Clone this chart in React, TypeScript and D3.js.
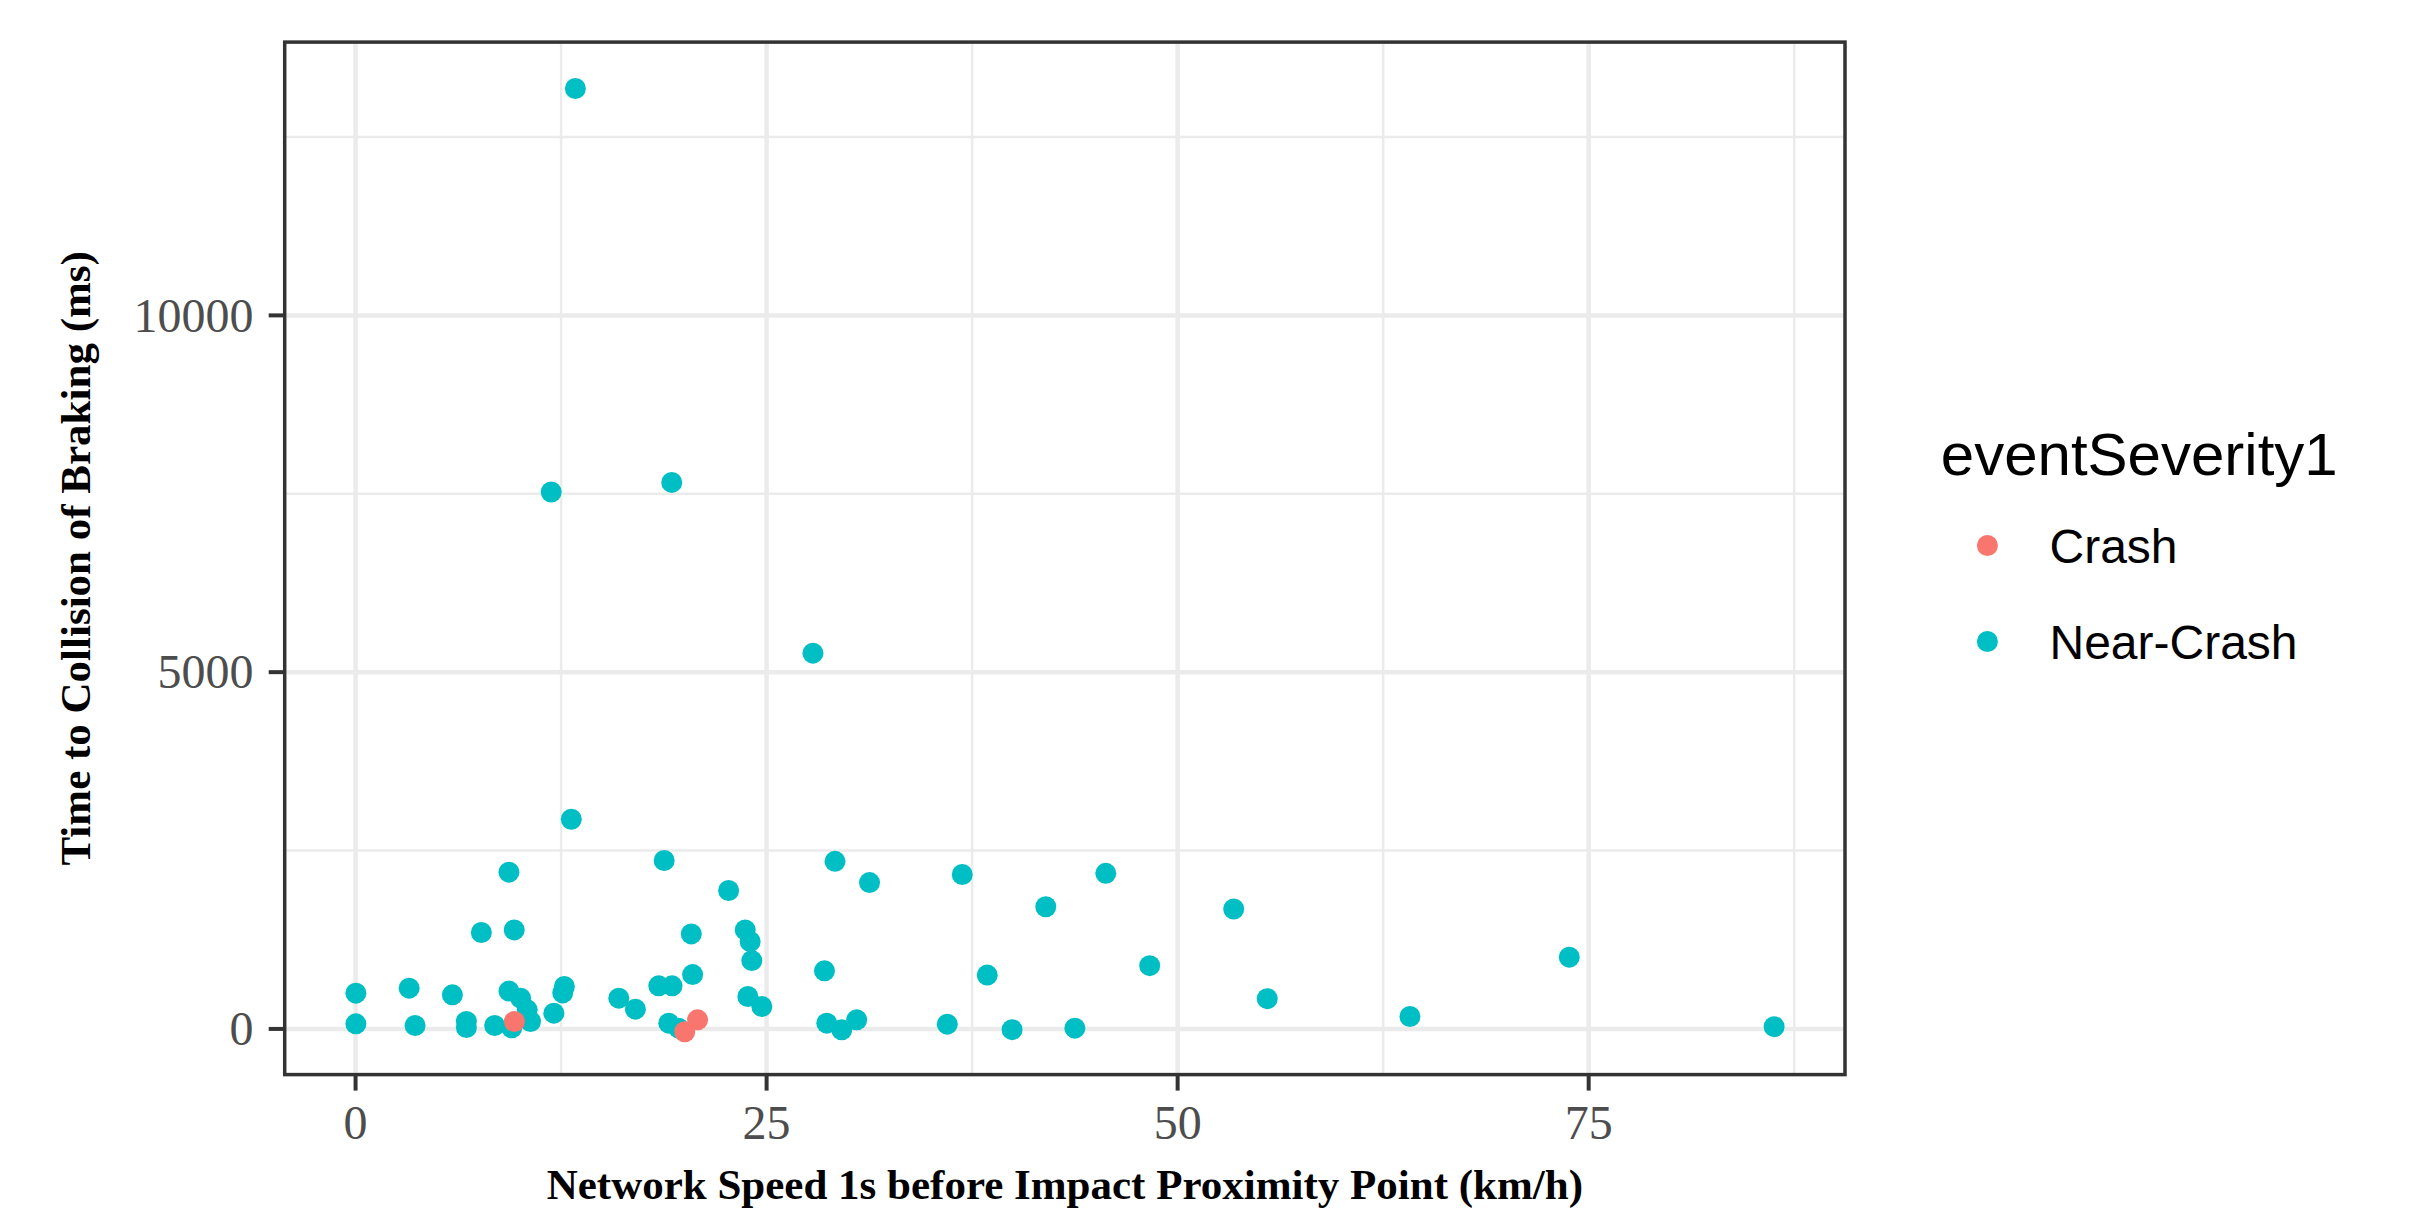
import React, { useEffect } from "react";
import * as d3 from "d3";

// ---- Data ----
const nearCrashSpeed = [
  13.37, 11.9, 19.23, 27.82, 13.12, 18.77, 9.33, 22.69, 7.65, 9.65, 20.42, 23.7, 24.0, 24.1, 20.5,
  0.02, 3.26, 5.89, 9.33, 10.04, 10.44, 10.64, 12.7, 12.6, 12.06, 16.01, 17.02, 18.44, 19.25, 23.86,
  24.71, 0.02, 3.62, 6.74, 6.74, 8.46, 9.5, 19.05, 19.65, 29.16, 31.26, 36.9, 45.63, 41.98, 53.41,
  28.52, 38.42, 48.3, 73.82, 55.45, 64.13, 28.66, 29.57, 30.48, 35.99, 39.93, 43.75, 86.28,
];
const nearCrashTTC = [
  13180, 7525, 7659, 5266, 2938, 2360, 2197, 1940, 1351, 1388, 1332, 1388, 1225, 958, 762,
  501, 571, 478, 530, 431, 268, 104, 595, 505, 221, 431, 277, 604, 604, 454,
  314, 71, 48, 104, 20, 48, 15, 81, 11, 2349, 2051, 2164, 2181, 1713, 1681,
  814, 755, 887, 1006, 424, 174, 81, -13, 127, 67, -10, 11, 32,
];
const crashSpeed = [9.66, 20.02, 20.8];
const crashTTC = [104, -40, 127];

const xTicks = [0, 25, 50, 75];
const xMinor = [12.5, 37.5, 62.5, 87.5];
const yTicks = [0, 5000, 10000];
const yMinor = [2500, 7500, 12500];
const xDomain = [-4.31, 90.59];
const yDomain = [-640, 13830];

const legendTitle = "eventSeverity1";
const categories = ["Crash", "Near-Crash"];
const colors = ["#F8766D", "#00BFC4"];

const W = 2412;
const H = 1209;
const panel = { left: 284.7, right: 1845, top: 42.1, bottom: 1074.6 };

export default function App() {
  useEffect(() => {
    document.body.style.margin = "0";
    document.body.style.overflow = "hidden";
  }, []);

  const x = d3.scaleLinear().domain(xDomain).range([panel.left, panel.right]);
  const y = d3.scaleLinear().domain(yDomain).range([panel.bottom, panel.top]);

  const near = nearCrashSpeed.map((s, i) => ({ s, t: nearCrashTTC[i] }));
  const crash = crashSpeed.map((s, i) => ({ s, t: crashTTC[i] }));

  const serif = "'Liberation Serif', 'Times New Roman', serif";
  const sans = "'Liberation Sans', Arial, sans-serif";
  const tickLen = 16;
  const r = 10.5;

  return (
    <svg
      width={W}
      height={H}
      style={{ position: "absolute", left: 0, top: 0, display: "block", background: "#fff" }}
    >
      <rect x={0} y={0} width={W} height={H} fill="#fff" />
      {/* minor grid */}
      {yMinor.map((v) => (
        <line key={"ym" + v} x1={panel.left} x2={panel.right} y1={y(v)} y2={y(v)} stroke="#EBEBEB" strokeWidth={2.5} />
      ))}
      {xMinor.map((v) => (
        <line key={"xm" + v} x1={x(v)} x2={x(v)} y1={panel.top} y2={panel.bottom} stroke="#EBEBEB" strokeWidth={2.5} />
      ))}
      {/* major grid */}
      {yTicks.map((v) => (
        <line key={"yg" + v} x1={panel.left} x2={panel.right} y1={y(v)} y2={y(v)} stroke="#EBEBEB" strokeWidth={4.5} />
      ))}
      {xTicks.map((v) => (
        <line key={"xg" + v} x1={x(v)} x2={x(v)} y1={panel.top} y2={panel.bottom} stroke="#EBEBEB" strokeWidth={4.5} />
      ))}

      {/* points */}
      {near.map((d, i) => (
        <circle key={"n" + i} cx={x(d.s)} cy={y(d.t)} r={r} fill={colors[1]} />
      ))}
      {crash.map((d, i) => (
        <circle key={"c" + i} cx={x(d.s)} cy={y(d.t)} r={r} fill={colors[0]} />
      ))}

      {/* panel border */}
      <rect
        x={panel.left}
        y={panel.top}
        width={panel.right - panel.left}
        height={panel.bottom - panel.top}
        fill="none"
        stroke="#333333"
        strokeWidth={3.5}
      />

      {/* y axis ticks & labels */}
      {yTicks.map((v) => (
        <g key={"yt" + v}>
          <line x1={panel.left - tickLen} x2={panel.left} y1={y(v)} y2={y(v)} stroke="#333333" strokeWidth={4} />
          <text
            x={253.6}
            y={y(v)}
            dy="0.34em"
            textAnchor="end"
            fontFamily={serif}
            fontSize={48}
            fill="#4D4D4D"
          >
            {v}
          </text>
        </g>
      ))}
      {/* x axis ticks & labels */}
      {xTicks.map((v) => (
        <g key={"xt" + v}>
          <line x1={x(v)} x2={x(v)} y1={panel.bottom} y2={panel.bottom + tickLen} stroke="#333333" strokeWidth={4} />
          <text x={x(v)} y={1139.3} textAnchor="middle" fontFamily={serif} fontSize={48} fill="#4D4D4D">
            {v}
          </text>
        </g>
      ))}

      {/* axis titles */}
      <text
        x={(panel.left + panel.right) / 2}
        y={1199}
        textAnchor="middle"
        fontFamily={serif}
        fontWeight="bold"
        fontSize={43}
        fill="#000"
      >
        Network Speed 1s before Impact Proximity Point (km/h)
      </text>
      <text
        transform={`translate(90, ${(panel.top + panel.bottom) / 2}) rotate(-90)`}
        textAnchor="middle"
        fontFamily={serif}
        fontWeight="bold"
        fontSize={43}
        fill="#000"
      >
        Time to Collision of Braking (ms)
      </text>

      {/* legend */}
      <text x={1940.8} y={475.4} fontFamily={sans} fontSize={60} fill="#000">
        {legendTitle}
      </text>
      {categories.map((c, i) => (
        <g key={c}>
          <circle cx={1987.4} cy={545.5 + i * 96} r={r} fill={colors[i]} />
          <text x={2049.5} y={545.5 + i * 96} dy="0.36em" fontFamily={sans} fontSize={48} fill="#000">
            {c}
          </text>
        </g>
      ))}
    </svg>
  );
}
